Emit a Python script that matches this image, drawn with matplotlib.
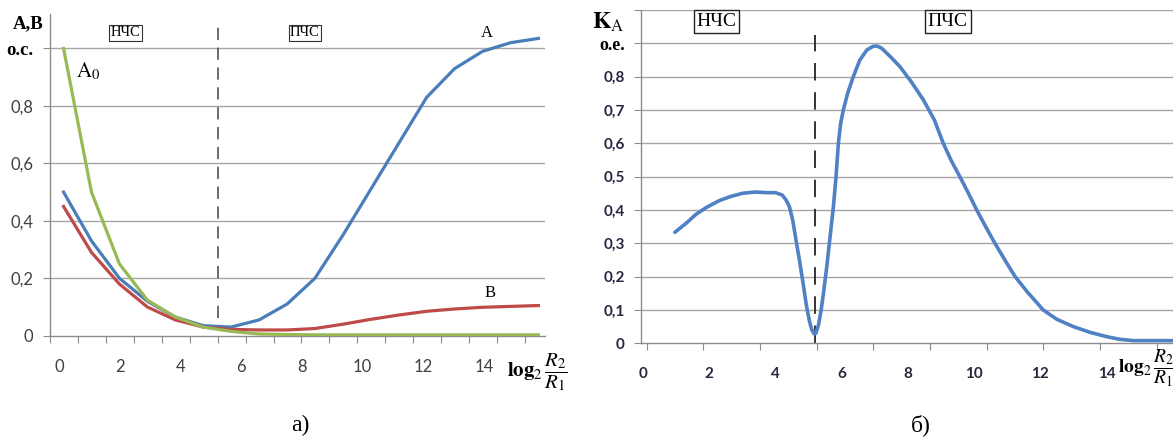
import numpy as np
import matplotlib
matplotlib.use('Agg')
import matplotlib.pyplot as plt
from matplotlib.ticker import FixedLocator, FixedFormatter, NullFormatter

plt.rcParams['mathtext.fontset'] = 'stix'

# --- chart a): A, B, A0 vs log2(R2/R1)
x_a = [0.15, 1.07, 1.99, 2.91, 3.83, 4.75, 5.67, 6.59, 7.51, 8.43, 9.35, 10.27,
       11.19, 12.11, 13.03, 13.95, 14.87, 15.79]
curve_a = [0.50, 0.33, 0.20, 0.12, 0.065, 0.035, 0.03, 0.055, 0.11, 0.20, 0.35, 0.51,
           0.67, 0.83, 0.93, 0.99, 1.02, 1.035]
curve_b = [0.45, 0.29, 0.18, 0.10, 0.055, 0.03, 0.022, 0.02, 0.02, 0.025, 0.04, 0.057,
           0.072, 0.085, 0.093, 0.099, 0.102, 0.105]
curve_a0 = [1.0, 0.50, 0.25, 0.124, 0.065, 0.03, 0.015, 0.006, 0.004, 0.003, 0.003, 0.003,
            0.003, 0.003, 0.003, 0.003, 0.003, 0.003]
boundary_a = 5.24
yticks_a = [0, 0.2, 0.4, 0.6, 0.8, 1.0]
ylabels_a = ['0', '0,2', '0,4', '0,6', '0,8', 'o.c.']

# --- chart б): K_A vs log2(R2/R1)
x_k = [0.96, 1.3, 1.6, 1.92, 2.3, 2.63, 3.0, 3.4, 3.73, 4.0, 4.2, 4.32, 4.42, 4.52,
       4.62, 4.74, 4.85, 4.94, 5.03, 5.10, 5.17, 5.22, 5.30, 5.38, 5.45, 5.55, 5.65,
       5.75, 5.83, 5.90, 5.97, 6.05, 6.18, 6.35, 6.55, 6.76, 6.95, 7.06, 7.2, 7.45,
       7.76, 8.1, 8.47, 8.8, 9.07, 9.3, 9.57, 9.83, 10.08, 10.35, 10.63, 10.93, 11.24,
       11.6, 12.09, 12.5, 13.0, 13.5, 14.0, 14.4, 14.81, 16.0]
curve_k = [0.333, 0.36, 0.387, 0.408, 0.428, 0.44, 0.45, 0.454, 0.452, 0.452, 0.445, 0.43,
           0.41, 0.37, 0.31, 0.24, 0.17, 0.11, 0.065, 0.04, 0.028, 0.03, 0.055, 0.10,
           0.15, 0.23, 0.32, 0.41, 0.50, 0.60, 0.66, 0.70, 0.75, 0.80, 0.85, 0.88, 0.891,
           0.892, 0.886, 0.862, 0.83, 0.785, 0.73, 0.67, 0.60, 0.55, 0.50, 0.45, 0.40, 0.35,
           0.30, 0.25, 0.20, 0.155, 0.10, 0.072, 0.05, 0.033, 0.02, 0.012, 0.008, 0.008]
boundary_k = 5.19
yticks_k = [0, 0.1, 0.2, 0.3, 0.4, 0.5, 0.6, 0.7, 0.8, 0.9, 1.0]
ylabels_k = ['0', '0,1', '0,2', '0,3', '0,4', '0,5', '0,6', '0,7', '0,8', 'o.e.', '']

xlabel_pos = [0, 2, 4, 6, 8, 10, 12, 14]
xlabel_txt = ['0', '2', '4', '6', '8', '10', '12', '14']

BLUE = '#4a7ebb'
RED = '#be4b48'
GREEN = '#98b954'
GRID = '#a6a6a6'
AXIS = '#8c8c8c'
SERIF = 'Liberation Serif'
LOG_LABEL = r'$\mathbf{log}_{2}\,\dfrac{R_{2}}{R_{1}}$'

fig = plt.figure(figsize=(11.73, 4.41), dpi=100)
ax1 = fig.add_axes([50 / 1173, 105.3 / 441, 494.8 / 1173, 321.7 / 441])
ax2 = fig.add_axes([641.4 / 1173, 97.7 / 441, 531.3 / 1173, 333.3 / 441])


def style_axes(ax, yticks, ylabels, tick_font, tick_color, weight):
    for s in ['top', 'right']:
        ax.spines[s].set_visible(False)
    for s in ['left', 'bottom']:
        ax.spines[s].set_color(AXIS)
        ax.spines[s].set_linewidth(1.0)
    ax.set_yticks(yticks)
    ax.set_yticklabels(ylabels, fontfamily=tick_font, fontsize=12 if weight == 'normal' else 11,
                       color=tick_color, fontweight=weight)
    for y in yticks[1:]:
        ax.axhline(y, color=GRID, lw=1.0, zorder=0)
    ax.tick_params(axis='y', which='major', direction='out', length=5, color=AXIS, pad=7)
    ax.xaxis.set_major_formatter(NullFormatter())
    ax.xaxis.set_minor_locator(FixedLocator(xlabel_pos))
    ax.xaxis.set_minor_formatter(FixedFormatter(xlabel_txt))
    ax.tick_params(axis='x', which='major', direction='out', length=5, color=AXIS)
    ax.tick_params(axis='x', which='minor', length=0, pad=17)
    for lab in ax.get_xticklabels(minor=True):
        lab.set_fontfamily(tick_font)
        lab.set_fontsize(12 if weight == 'normal' else 11)
        lab.set_color(tick_color)
        lab.set_fontweight(weight)


# ---- chart a
ax1.plot(x_a, curve_a, color=BLUE, lw=2.3, zorder=3)
ax1.plot(x_a, curve_b, color=RED, lw=2.3, zorder=3)
ax1.plot(x_a, curve_a0, color=GREEN, lw=2.3, zorder=4)
ax1.set_xlim(-0.296, 16.0)
ax1.set_ylim(0, 1.12)
ax1.xaxis.set_major_locator(FixedLocator(np.arange(-0.287, 16.0, 0.919)))
style_axes(ax1, yticks_a, ylabels_a, 'Lato', '#404040', 'normal')
top_lab = ax1.get_yticklabels()[-1]
top_lab.set_fontfamily(SERIF)
top_lab.set_fontweight('bold')
top_lab.set_color('black')
top_lab.set_fontsize(13.5)
ax1.axvline(boundary_a, ymin=0.06 / 1.12, ymax=1.09 / 1.12, color='#444444', lw=1.1,
            dashes=(8, 5), zorder=2)
ax1.text(-0.5, 1.085, 'A,B', fontfamily=SERIF, fontweight='bold', fontsize=13.5,
         ha='right', va='center')
box = dict(boxstyle='square,pad=0.1', fc='white', ec='#333333', lw=0.8)
ax1.text(2.2, 1.055, 'НЧС', fontfamily=SERIF, fontsize=10.5, ha='center', va='center', bbox=box)
ax1.text(8.1, 1.055, 'ПЧС', fontfamily=SERIF, fontsize=10.5, ha='center', va='center', bbox=box)
ax1.text(14.1, 1.055, 'A', fontfamily=SERIF, fontsize=12, ha='center', va='center')
ax1.text(14.2, 0.15, 'B', fontfamily=SERIF, fontsize=12, ha='center', va='center')
ax1.text(0.95, 0.92, r'$\mathrm{A}_{0}$', fontsize=15, ha='center', va='center')
ax1.text(14.75, -0.125, LOG_LABEL, fontsize=15, ha='left', va='center', clip_on=False)

# ---- chart б
ax2.plot(x_k, curve_k, color='#4f81c4', lw=2.6, zorder=3, solid_capstyle='round',
         solid_joinstyle='round')
ax2.set_xlim(-0.05, 16.0)
ax2.set_ylim(0, 1.0)
ax2.xaxis.set_major_locator(FixedLocator(np.arange(0.11, 16.0, 1.712)))
style_axes(ax2, yticks_k, ylabels_k, 'Lato', '#2b2640', 'bold')
lab9 = ax2.get_yticklabels()[-2]
lab9.set_fontfamily(SERIF)
lab9.set_fontsize(13)
lab9.set_fontweight('bold')
lab9.set_color('black')
ax2.axvline(boundary_k, ymin=0, ymax=0.925, color='#333333', lw=1.4, dashes=(9, 6), zorder=2)
ax2.text(-0.55, 0.965, r'$\mathbf{K}_{\mathrm{A}}$', fontsize=17, ha='right', va='center')
box2 = dict(boxstyle='square,pad=0.15', fc='white', ec='#222222', lw=1.0)
ax2.text(2.22, 0.965, 'НЧС', fontfamily=SERIF, fontsize=14, ha='center', va='center', bbox=box2)
ax2.text(9.2, 0.965, 'ПЧС', fontfamily=SERIF, fontsize=14, ha='center', va='center', bbox=box2)
ax2.text(14.35, -0.075, LOG_LABEL, fontsize=14, ha='left', va='center', clip_on=False)

fig.text(300 / 1173, 1 - 425 / 441, 'а)', fontfamily=SERIF, fontsize=17, ha='center', va='center')
fig.text(921 / 1173, 1 - 425 / 441, 'б)', fontfamily=SERIF, fontsize=17, ha='center', va='center')

fig.savefig('out.png', dpi=100)
